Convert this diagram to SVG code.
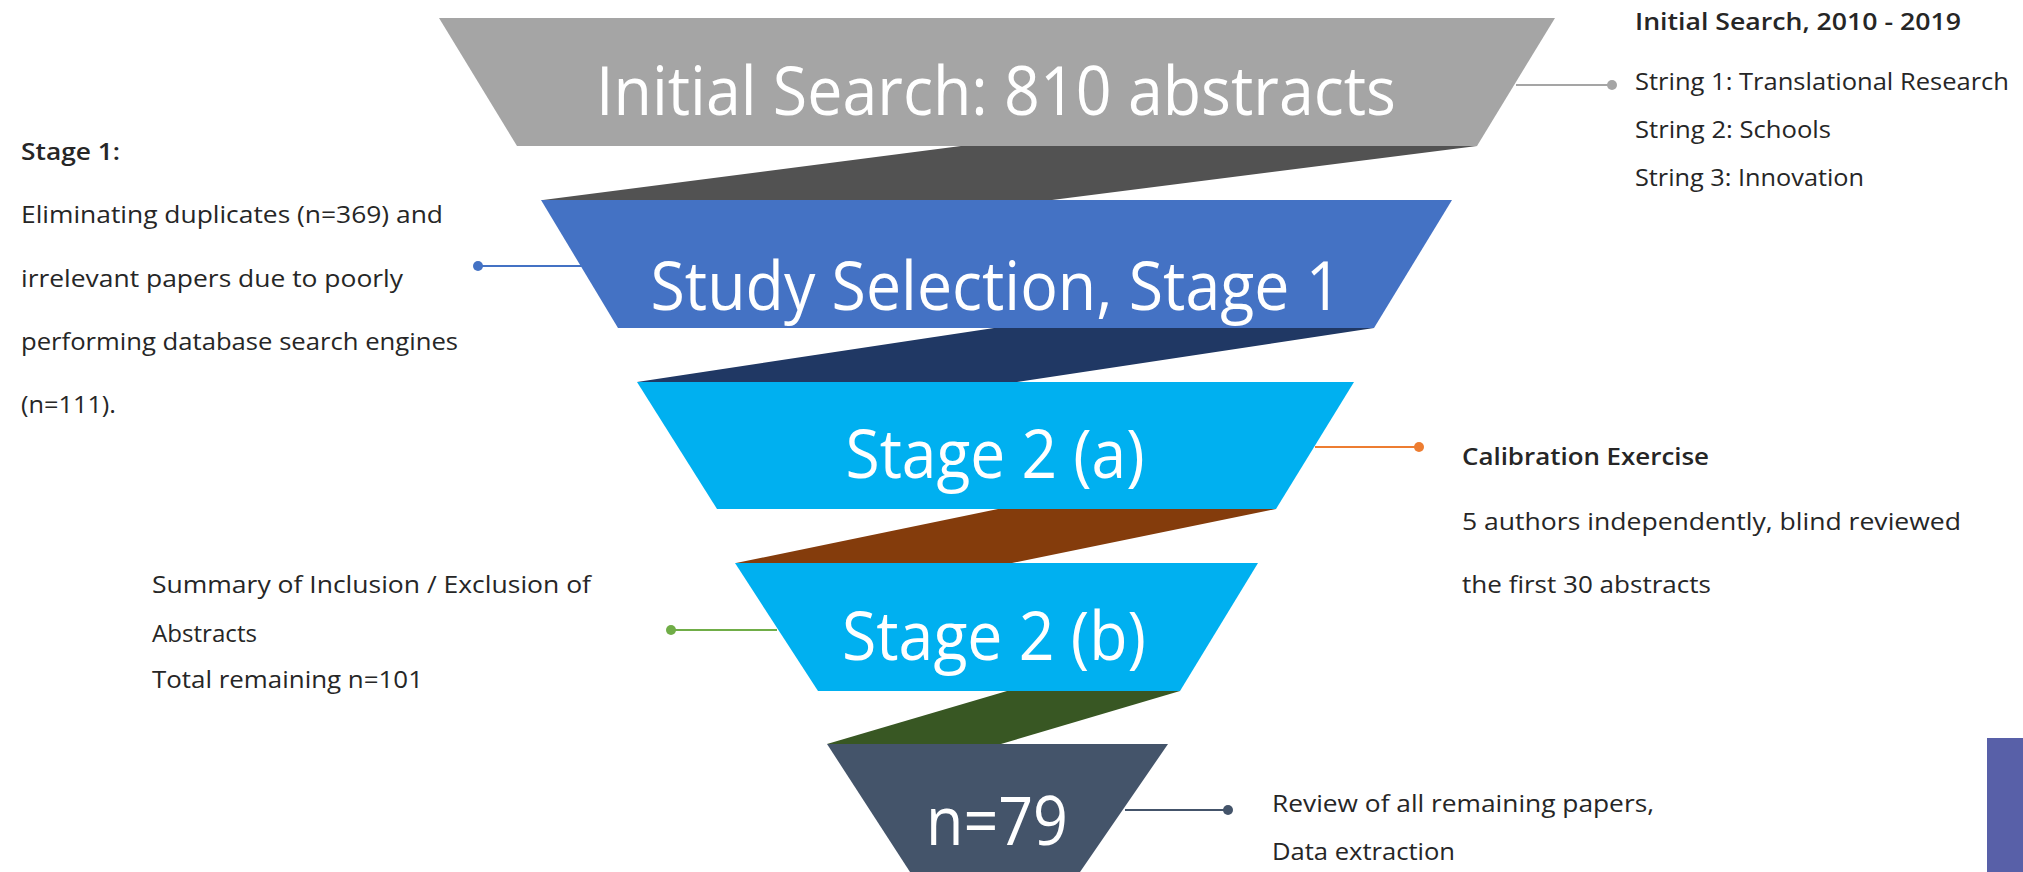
<svg xmlns="http://www.w3.org/2000/svg" width="2023" height="872" viewBox="0 0 2023 872">
  <style>
    .big { font-family: "Open Sans", "Noto Sans", sans-serif; font-size: 67px; fill: #ffffff; text-anchor: middle; }
    .lbl { font-family: "Open Sans", "Noto Sans", sans-serif; font-size: 23px; fill: #262626; }
    .bold { font-weight: 600; }
    .conn { fill: none; stroke-width: 2; }
  </style>
  <rect width="2023" height="872" fill="#ffffff"/>
  <!-- funnel bands between stages -->
  <g id="bands">
    <polygon points="961,146 1477,146 1052,200 543,200" fill="#525252"/>
    <polygon points="994,328 1374,328 1017,382 637,382" fill="#203864"/>
    <polygon points="998,509 1276,509 1012,563 736,563" fill="#843C0C"/>
    <polygon points="1007,691 1180,691 1001,744 827,744" fill="#385723"/>
  </g>
  <g id="node-initial">
    <polygon points="439,18 1555,18 1477,146 517,146" fill="#A5A5A5"/>
    <text class="big" x="996" y="115" textLength="800" lengthAdjust="spacingAndGlyphs">Initial Search: 810 abstracts</text>
  </g>
  <g id="node-stage1">
    <polygon points="541,200 1452,200 1374,328 618,328" fill="#4472C4"/>
    <text class="big" x="996" y="310" textLength="691" lengthAdjust="spacingAndGlyphs">Study Selection, Stage 1</text>
  </g>
  <g id="node-stage2a">
    <polygon points="637,382 1354,382 1276,509 717,509" fill="#00B0F0"/>
    <text class="big" x="995" y="478" textLength="299" lengthAdjust="spacingAndGlyphs">Stage 2 (a)</text>
  </g>
  <g id="node-stage2b">
    <polygon points="735,563 1258,563 1180,691 818,691" fill="#00B0F0"/>
    <text class="big" x="994" y="660" textLength="304" lengthAdjust="spacingAndGlyphs">Stage 2 (b)</text>
  </g>
  <g id="node-n79">
    <polygon points="827,744 1168,744 1080,872 910,872" fill="#44546A"/>
    <text class="big" x="997" y="845" textLength="142" lengthAdjust="spacingAndGlyphs">n=79</text>
  </g>
  <!-- connectors (callout lines with dots) -->
  <g id="connectors">
    <line class="conn" x1="1516" y1="85" x2="1612" y2="85" stroke="#A5A5A5"/>
    <circle cx="1612" cy="85" r="5" fill="#A5A5A5"/>
    <line class="conn" x1="478" y1="266" x2="582" y2="266" stroke="#4472C4"/>
    <circle cx="478" cy="266" r="5" fill="#4472C4"/>
    <line class="conn" x1="1315" y1="447" x2="1419" y2="447" stroke="#ED7D31"/>
    <circle cx="1419" cy="447" r="5" fill="#ED7D31"/>
    <line class="conn" x1="671" y1="630" x2="777" y2="630" stroke="#70AD47"/>
    <circle cx="671" cy="630" r="5" fill="#70AD47"/>
    <line class="conn" x1="1125" y1="810" x2="1228" y2="810" stroke="#44546A"/>
    <circle cx="1228" cy="810" r="5" fill="#44546A"/>
  </g>
  <g id="label-initial">
    <text class="lbl bold" x="1635" y="30" textLength="326" lengthAdjust="spacingAndGlyphs">Initial Search, 2010 - 2019</text>
    <text class="lbl" x="1635" y="90" textLength="374" lengthAdjust="spacingAndGlyphs">String 1: Translational Research</text>
    <text class="lbl" x="1635" y="138" textLength="196" lengthAdjust="spacingAndGlyphs">String 2: Schools</text>
    <text class="lbl" x="1635" y="186" textLength="229" lengthAdjust="spacingAndGlyphs">String 3: Innovation</text>
  </g>
  <g id="label-stage1">
    <text class="lbl bold" x="21" y="160" textLength="99" lengthAdjust="spacingAndGlyphs">Stage 1:</text>
    <text class="lbl" x="21" y="223" textLength="422" lengthAdjust="spacingAndGlyphs">Eliminating duplicates (n=369) and</text>
    <text class="lbl" x="21" y="287" textLength="382" lengthAdjust="spacingAndGlyphs">irrelevant papers due to poorly</text>
    <text class="lbl" x="21" y="350" textLength="437" lengthAdjust="spacingAndGlyphs">performing database search engines</text>
    <text class="lbl" x="21" y="413" textLength="95" lengthAdjust="spacingAndGlyphs">(n=111).</text>
  </g>
  <g id="label-calibration">
    <text class="lbl bold" x="1462" y="465" textLength="247" lengthAdjust="spacingAndGlyphs">Calibration Exercise</text>
    <text class="lbl" x="1462" y="530" textLength="499" lengthAdjust="spacingAndGlyphs">5 authors independently, blind reviewed</text>
    <text class="lbl" x="1462" y="593" textLength="249" lengthAdjust="spacingAndGlyphs">the first 30 abstracts</text>
  </g>
  <g id="label-summary">
    <text class="lbl" x="152" y="593" textLength="439" lengthAdjust="spacingAndGlyphs">Summary of Inclusion / Exclusion of</text>
    <text class="lbl" x="152" y="642" textLength="105" lengthAdjust="spacingAndGlyphs">Abstracts</text>
    <text class="lbl" x="152" y="688" textLength="271" lengthAdjust="spacingAndGlyphs">Total remaining n=101</text>
  </g>
  <g id="label-review">
    <text class="lbl" x="1272" y="812" textLength="382" lengthAdjust="spacingAndGlyphs">Review of all remaining papers,</text>
    <text class="lbl" x="1272" y="860" textLength="183" lengthAdjust="spacingAndGlyphs">Data extraction</text>
  </g>
  <rect id="side-tab" x="1987" y="738" width="36" height="134" fill="#5860A8"/>
</svg>
